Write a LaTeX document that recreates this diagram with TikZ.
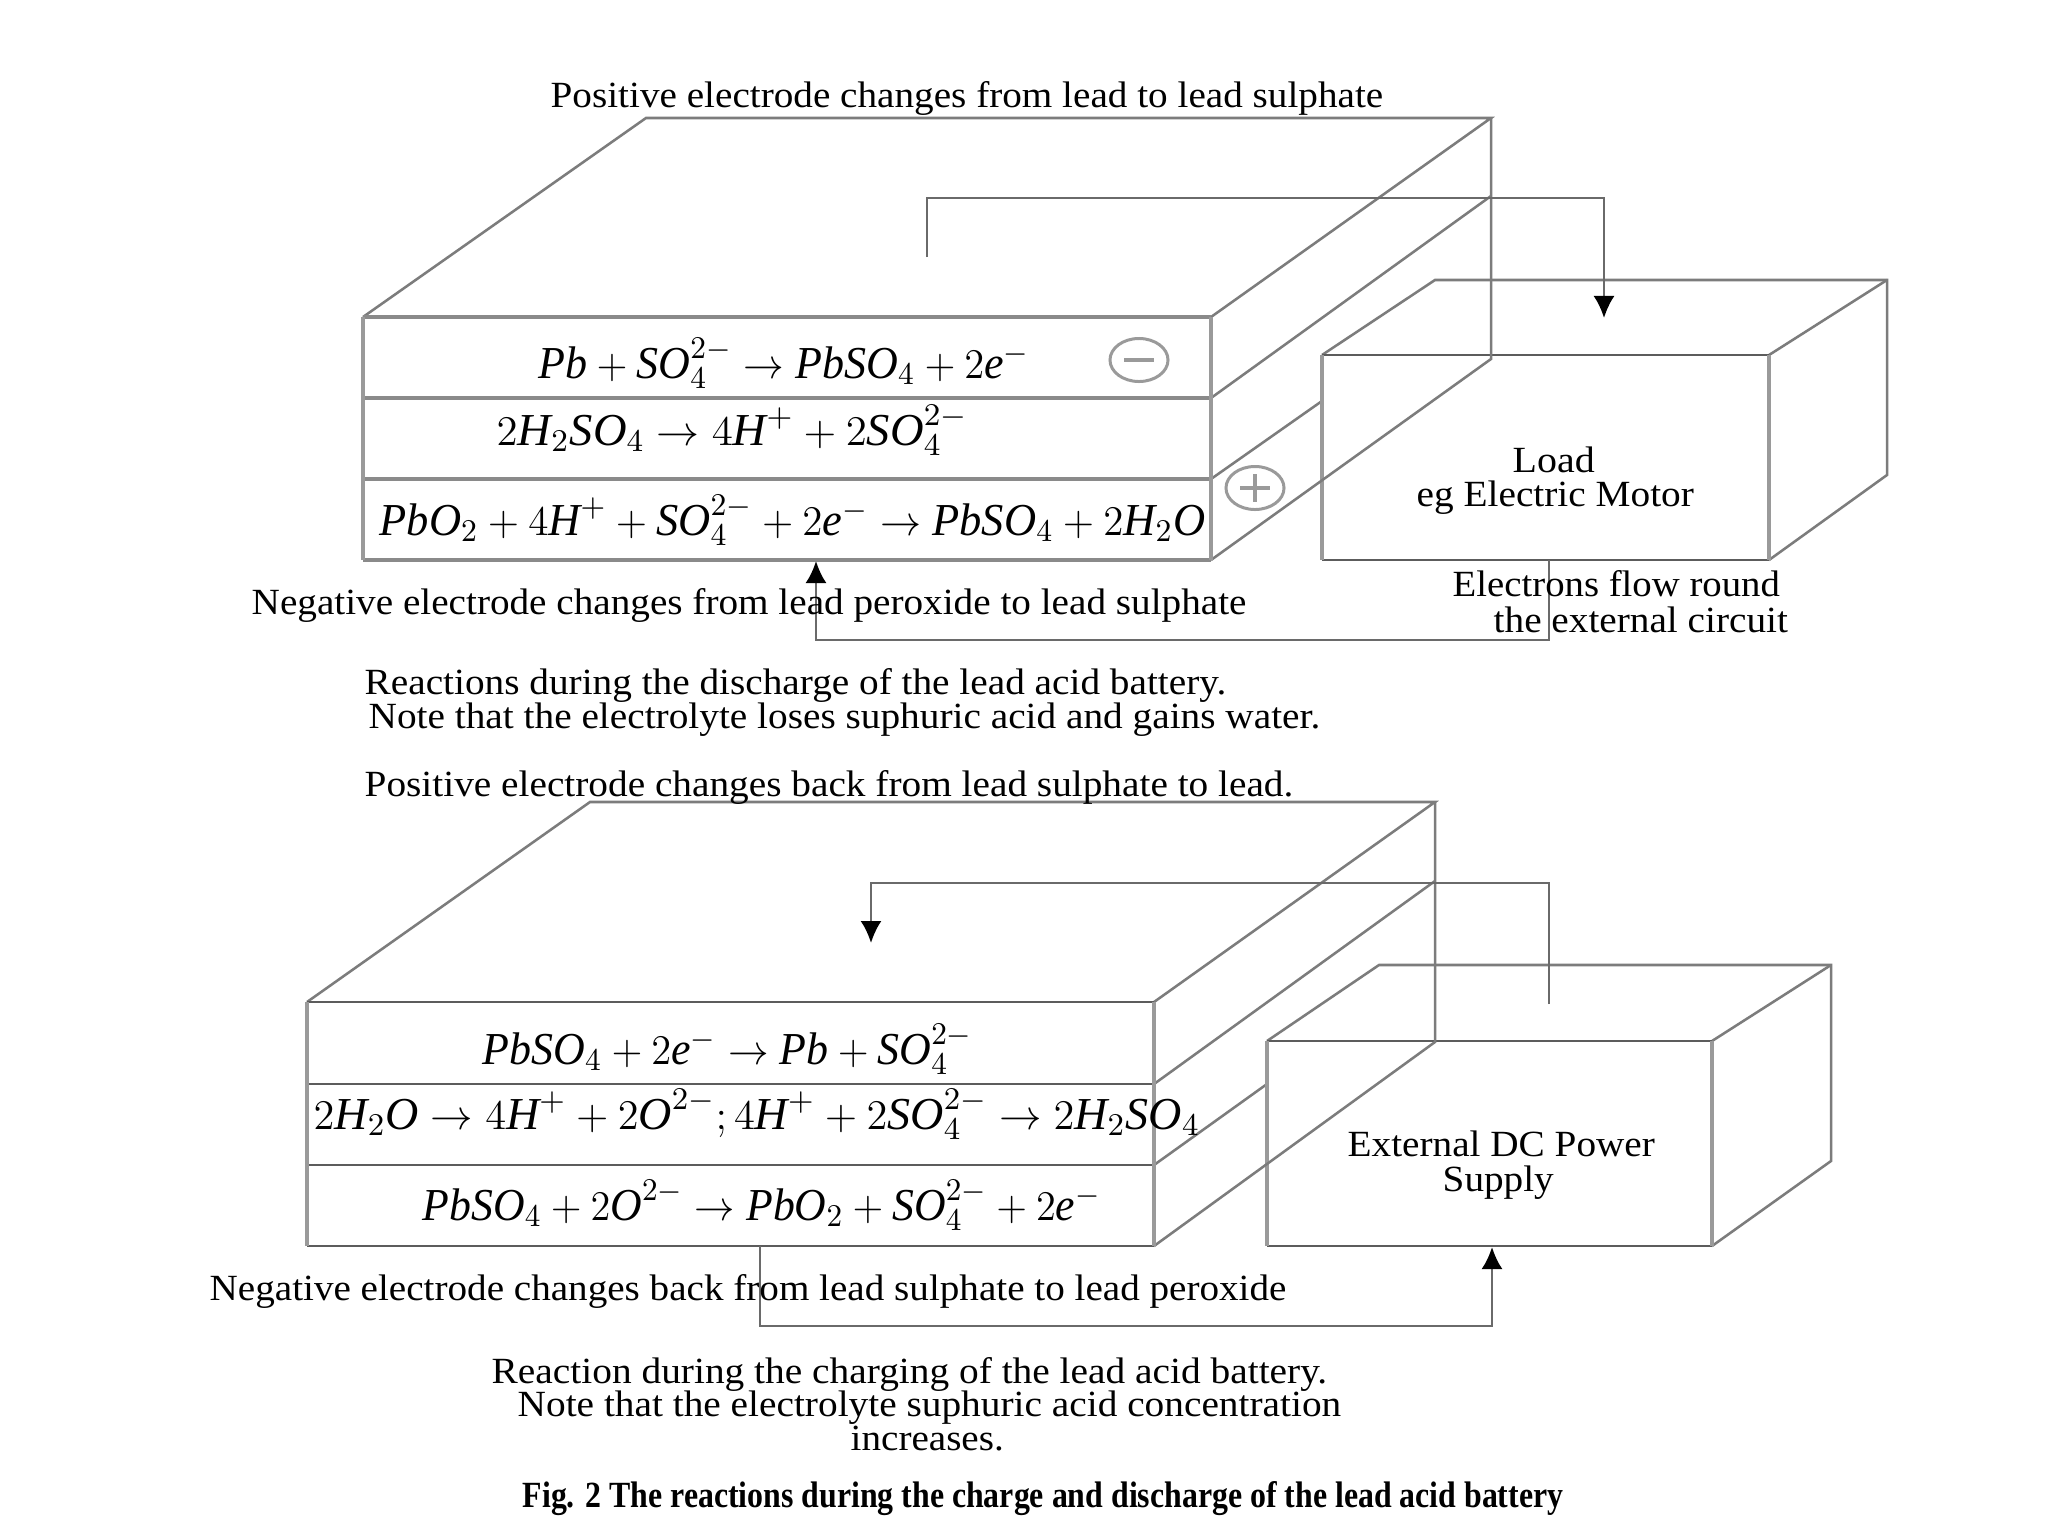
\documentclass[tikz,border=0pt]{standalone}
\usepackage[no-math]{fontspec}
\usepackage{graphicx}
\setmainfont{Liberation Serif}
\usetikzlibrary{arrows.meta,shapes.geometric}
\definecolor{ln}{HTML}{6A6A6A}
\definecolor{dg}{HTML}{7C7C7C}
\definecolor{vt}{HTML}{9A9A9A}
\definecolor{hz}{HTML}{8A8A8A}
\definecolor{hd}{HTML}{5C5C5C}
\newcommand\fw[2]{\resizebox{#1}{\height}{#2}}
\newcommand\iz[1]{\textit{#1}}
\tikzset{
  edge/.style={draw=dg,line width=0.72pt,line join=miter},
  vertline/.style={draw=vt,line width=1.05pt},
  horizlight/.style={draw=hz,line width=1.05pt},
  horizdark/.style={draw=hd,line width=0.75pt},
  wire/.style={draw=ln,line width=0.75pt},
  arrowwire/.style={wire,-{Latex[length=0.22cm,width=0.21cm,black]}},
  txt/.style={anchor=base west,inner sep=0pt,font=\fontsize{10.5}{12}\selectfont,text=black},
  eqn/.style={anchor=base west,inner sep=0pt,font=\fontsize{13}{15}\selectfont,text=black},
  captxt/.style={anchor=base west,inner sep=0pt,font=\fontsize{10.5}{12}\selectfont\bfseries,text=black},
  signmark/.style={ellipse,draw=vt,line width=0.85pt,minimum width=0.58cm,minimum height=0.43cm,inner sep=0pt}
}
\begin{document}
\begin{tikzpicture}[x=0.01cm,y=-0.01cm]
\fill[white] (0,0) rectangle (2048,1536);
\useasboundingbox (0,0) rectangle (2048,1536);
% ---------- upper battery
\coordinate (aTL) at (363,317); \coordinate (aTR) at (1211,317);
\coordinate (aM1L) at (363,398); \coordinate (aM1R) at (1211,398);
\coordinate (aM2L) at (363,479); \coordinate (aM2R) at (1211,479);
\coordinate (aBL) at (363,560); \coordinate (aBR) at (1211,560);
\coordinate (aBackL) at (646,118); \coordinate (aBackR) at (1491,118);
\coordinate (aBackM) at (1491,196); \coordinate (aBackB) at (1491,359);
\coordinate (aHid) at (1322,401);
% load box
\coordinate (lTL) at (1322,355); \coordinate (lTR) at (1769,355);
\coordinate (lBL) at (1322,560); \coordinate (lBR) at (1769,560);
\coordinate (lBackL) at (1435,280); \coordinate (lBackR) at (1887,280);
\coordinate (lBackB) at (1887,475);
\draw[edge] (aTL) -- (aBackL) -- (aBackR) -- (aTR);
\draw[edge] (aM1R) -- (aBackM);
\draw[edge] (aM2R) -- (aHid);
\draw[edge] (lTL) -- (lBackL) -- (lBackR) -- (lBackB) -- (lBR);
\draw[edge] (lTR) -- (lBackR);
\fill[white] (lTL) rectangle (lBR);
\draw[horizdark] (lTL) -- (lTR) (lBL) -- (lBR);
\draw[vertline] (lTL) -- (lBL) (lTR) -- (lBR);
\draw[edge] (aBackR) -- (aBackB) -- (aBR);
\fill[white] (aTL) rectangle (aBR);
\draw[horizlight] (aTL) -- (aTR) (aM1L) -- (aM1R) (aM2L) -- (aM2R) (aBL) -- (aBR);
\draw[vertline] (aTL) -- (aBL) (aTR) -- (aBR);
% wires upper
\coordinate (w1a) at (927,257); \coordinate (w1b) at (927,198);
\coordinate (w1c) at (1604,198); \coordinate (w1d) at (1604,318);
\draw[arrowwire] (w1a) -- (w1b) -- (w1c) -- (w1d);
\coordinate (w2a) at (1549,560); \coordinate (w2b) at (1549,640);
\coordinate (w2c) at (816,640); \coordinate (w2d) at (816,561);
\draw[arrowwire] (w2a) -- (w2b) -- (w2c) -- (w2d);
\node[signmark] (minus) at (1139,360) {};
\draw[vt,line width=1.2pt] (1124,360) -- (1154,360);
\node[signmark] (plus) at (1255,488) {};
\draw[vt,line width=0.9pt] (1240,488) -- (1270,488) (1255,474) -- (1255,502);
% ---------- lower battery
\coordinate (bTL) at (307,1002); \coordinate (bTR) at (1154,1002);
\coordinate (bM1L) at (307,1084); \coordinate (bM1R) at (1154,1084);
\coordinate (bM2L) at (307,1165); \coordinate (bM2R) at (1154,1165);
\coordinate (bBL) at (307,1246); \coordinate (bBR) at (1154,1246);
\coordinate (bBackL) at (590,802); \coordinate (bBackR) at (1435,802);
\coordinate (bBackM) at (1435,881); \coordinate (bBackB) at (1435,1042);
\coordinate (bHid) at (1267,1084);
\coordinate (pTL) at (1267,1041); \coordinate (pTR) at (1712,1041);
\coordinate (pBL) at (1267,1246); \coordinate (pBR) at (1712,1246);
\coordinate (pBackL) at (1379,965); \coordinate (pBackR) at (1831,965);
\coordinate (pBackB) at (1831,1161);
\draw[edge] (bTL) -- (bBackL) -- (bBackR) -- (bTR);
\draw[edge] (bM1R) -- (bBackM);
\draw[edge] (bM2R) -- (bHid);
\draw[edge] (pTL) -- (pBackL) -- (pBackR) -- (pBackB) -- (pBR);
\draw[edge] (pTR) -- (pBackR);
\fill[white] (pTL) rectangle (pBR);
\draw[horizdark] (pTL) -- (pTR) (pBL) -- (pBR);
\draw[vertline] (pTL) -- (pBL) (pTR) -- (pBR);
\draw[edge] (bBackR) -- (bBackB) -- (bBR);
\fill[white] (bTL) rectangle (bBR);
\draw[horizdark] (bTL) -- (bTR) (bM1L) -- (bM1R) (bM2L) -- (bM2R) (bBL) -- (bBR);
\draw[vertline] (bTL) -- (bBL) (bTR) -- (bBR);
\coordinate (w3a) at (1549,1004); \coordinate (w3b) at (1549,883);
\coordinate (w3c) at (871,883); \coordinate (w3d) at (871,943);
\draw[arrowwire] (w3a) -- (w3b) -- (w3c) -- (w3d);
\coordinate (w4a) at (760,1246); \coordinate (w4b) at (760,1326);
\coordinate (w4c) at (1492,1326); \coordinate (w4d) at (1492,1247);
\draw[arrowwire] (w4a) -- (w4b) -- (w4c) -- (w4d);
% ---------- texts
\node[txt] (t1) at (550,107) {\fw{8.32cm}{Positive electrode changes from lead to lead sulphate}};
\node[txt] (t2) at (251,614) {\fw{9.94cm}{Negative electrode changes from lead peroxide to lead sulphate}};
\node[txt] (t3) at (364,694) {\fw{8.61cm}{Reactions during the discharge of the lead acid battery.}};
\node[txt] (t4) at (368,728) {\fw{9.51cm}{Note that the electrolyte loses suphuric acid and gains water.}};
\node[txt] (t5) at (364,796) {\fw{9.28cm}{Positive electrode changes back from lead sulphate to lead.}};
\node[txt] (t6) at (209,1300) {\fw{10.76cm}{Negative electrode changes back from lead sulphate to lead peroxide}};
\node[txt] (t7) at (491,1383) {\fw{8.35cm}{Reaction during the charging of the lead acid battery.}};
\node[txt] (t8) at (517,1416) {\fw{8.23cm}{Note that the electrolyte suphuric acid concentration}};
\node[txt] (t9) at (850,1450) {\fw{1.53cm}{increases.}};
\node[captxt] (fig) at (522,1507) {\fw{10.40cm}{Fig. 2 The reactions during the charge and discharge of the lead acid battery}};
\node[txt] (load1) at (1512,472) {\fw{0.82cm}{Load}};
\node[txt] (load2) at (1416,506) {\fw{2.77cm}{eg Electric Motor}};
\node[txt] (el1) at (1452,596) {\fw{3.27cm}{Electrons flow round}};
\node[txt] (el2) at (1493,632) {\fw{2.94cm}{the external circuit}};
\node[txt] (ps1) at (1347,1156) {\fw{3.07cm}{External DC Power}};
\node[txt] (ps2) at (1442,1191) {\fw{1.11cm}{Supply}};
% ---------- equations
\node[eqn] (e1) at (538,378) {\fw{4.91cm}{$\iz{Pb}+\iz{SO}_4^{2-}\rightarrow \iz{PbSO}_4+2\iz{e}^-$}};
\node[eqn] (e2) at (496,445) {\fw{4.71cm}{$2\iz{H}_2\iz{SO}_4\rightarrow 4\iz{H}^++2\iz{SO}_4^{2-}$}};
\node[eqn] (e3) at (379,535) {\fw{8.25cm}{$\iz{PbO}_2+4\iz{H}^++\iz{SO}_4^{2-}+2\iz{e}^-\rightarrow \iz{PbSO}_4+2\iz{H}_2\iz{O}$}};
\node[eqn] (e4) at (482,1064) {\fw{4.90cm}{$\iz{PbSO}_4+2\iz{e}^-\rightarrow \iz{Pb}+\iz{SO}_4^{2-}$}};
\node[eqn] (e5) at (313,1129) {\fw{8.86cm}{$2\iz{H}_2\iz{O}\rightarrow 4\iz{H}^++2\iz{O}^{2-};4\iz{H}^++2\iz{SO}_4^{2-}\rightarrow 2\iz{H}_2\iz{SO}_4$}};
\node[eqn] (e6) at (422,1220) {\fw{6.78cm}{$\iz{PbSO}_4+2\iz{O}^{2-}\rightarrow \iz{PbO}_2+\iz{SO}_4^{2-}+2\iz{e}^-$}};
\end{tikzpicture}
\end{document}
